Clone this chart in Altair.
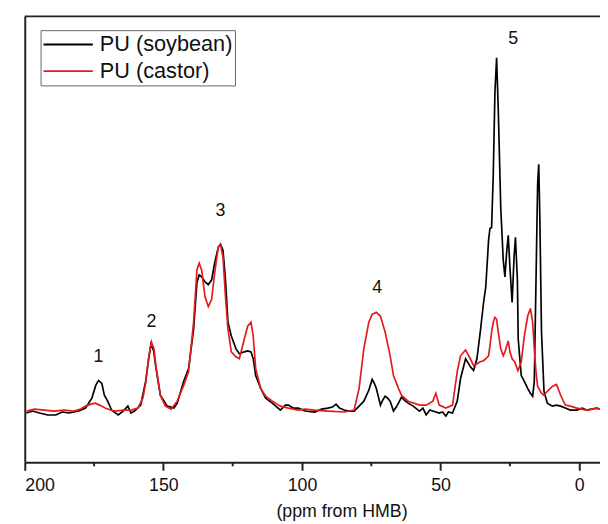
import altair as alt
import pandas as pd

# ---- data (ppm, intensity in arbitrary units) ----
soy_ppm = [199.4, 197.2, 194.7, 191.8, 188.8, 186.5, 184.0, 180.5, 178.1, 175.8,
           174.4, 173.4, 172.2, 171.3, 170.1, 168.7, 166.3, 164.5, 162.8, 161.7,
           160.4, 158.2, 156.4, 155.3, 154.5, 153.5, 152.8, 151.1, 148.6, 146.2,
           145.0, 142.7, 140.9, 139.1, 137.9, 137.1, 136.2, 135.0, 133.8, 132.6,
           131.5, 130.2, 129.4, 128.5, 127.6, 126.7, 125.5, 123.8, 122.6, 120.8,
           119.6, 118.4, 117.6, 116.7, 114.9, 113.1, 110.7, 107.8, 106.0, 104.9,
           103.2, 101.3, 98.9, 95.4, 92.9, 90.7, 89.0, 87.7, 86.5, 84.8,
           83.0, 81.2, 79.4, 77.7, 75.9, 74.7, 73.9, 73.2, 71.7, 70.9,
           70.0, 69.1, 68.2, 67.0, 66.0, 65.2, 64.1, 63.1, 61.7, 59.9,
           57.6, 56.4, 55.2, 53.9, 52.8, 50.5, 49.3, 48.1, 47.2, 45.7,
           44.0, 42.8, 41.0, 40.1, 39.3, 38.1, 36.9, 35.7, 34.5, 33.7,
           32.7, 32.2, 31.6, 31.0, 30.4, 29.8, 29.2, 28.3, 27.4, 26.8,
           26.2, 25.6, 25.0, 24.2, 23.5, 23.0, 22.3, 22.0, 20.9, 19.8,
           18.6, 17.6, 16.8, 16.2, 15.6, 15.0, 14.6, 14.2, 13.6, 12.7,
           11.5, 9.7, 8.2, 6.7, 5.0, 3.2, 0.8, -1.1, -2.7, -4.6, -6.3, -7.5]
soy_int = [50, 52, 50, 48, 48, 51, 50, 52, 55, 65,
           78, 83, 80, 68, 62, 53, 48, 52, 57, 50,
           52, 58, 82, 105, 120, 113, 98, 68, 57, 55,
           60, 82, 95, 135, 182, 190, 188, 183, 180, 185,
           202, 218, 221, 215, 185, 142, 128, 115, 110, 112,
           113, 112, 105, 88, 75, 65, 60, 53, 58, 58,
           55, 55, 52, 51, 54, 55, 56, 59, 55, 53,
           52, 52, 57, 62, 73, 84, 80, 75, 58, 63,
           67, 65, 62, 52, 56, 60, 66, 63, 60, 57,
           52, 55, 48, 53, 52, 50, 51, 47, 51, 50,
           62, 85, 105, 101, 97, 93, 105, 132, 162, 178,
           225, 237, 238, 292, 375, 410, 358, 258, 205, 188,
           212, 230, 198, 162, 208, 228, 185, 125, 88, 82,
           75, 70, 67, 82, 182, 282, 302, 248, 132, 72,
           60, 57, 58, 57, 55, 53, 53, 55, 53, 54, 55, 54]

cas_ppm = [199.4, 196.5, 192.9, 189.4, 185.8, 182.3, 179.8, 178.1, 176.2, 174.6,
           173.0, 171.0, 169.1, 167.5, 164.5, 161.7, 159.2, 157.4, 156.4, 155.3,
           154.3, 153.4, 152.7, 151.1, 149.3, 147.2, 145.0, 142.7, 140.9, 139.1,
           137.9, 137.1, 136.2, 135.0, 133.8, 132.6, 131.5, 130.2, 129.4, 128.5,
           127.6, 126.7, 125.5, 123.8, 122.6, 120.8, 119.6, 118.4, 117.6, 116.7,
           114.9, 113.1, 110.7, 107.8, 104.9, 101.3, 98.9, 95.4, 90.7, 84.8,
           81.2, 79.4, 77.7, 75.9, 74.7, 73.2, 71.7, 70.0, 68.2, 67.0,
           65.2, 64.1, 61.7, 57.6, 55.2, 52.8, 51.7, 50.5, 48.1, 45.7,
           44.0, 42.8, 41.0, 39.3, 38.1, 36.9, 35.7, 34.5, 33.7, 32.7,
           32.2, 31.6, 31.0, 30.4, 29.8, 29.2, 28.3, 27.4, 26.8, 25.6,
           25.0, 24.2, 23.3, 22.1, 20.9, 19.8, 18.6, 17.6, 16.8, 16.2,
           15.6, 15.0, 13.6, 12.7, 11.5, 9.7, 8.2, 6.7, 5.0, 3.2,
           0.8, -2.7, -6.3, -7.5]
cas_int = [52, 54, 53, 52, 53, 52, 54, 57, 59, 60,
           58, 55, 53, 52, 53, 53, 55, 65, 80, 107,
           122, 115, 98, 68, 57, 54, 62, 78, 92, 142,
           195, 202, 195, 168, 158, 165, 192, 218, 221, 208,
           168, 135, 112, 107, 105, 125, 138, 142, 128, 95,
           75, 67, 62, 57, 55, 53, 54, 53, 52, 51,
           53, 75, 115, 142, 150, 152, 148, 132, 108, 88,
           75, 68, 62, 58, 58, 62, 70, 58, 55, 58,
           92, 108, 114, 105, 98, 100, 102, 103, 105, 108,
           118, 132, 142, 147, 145, 132, 115, 108, 112, 123,
           112, 105, 102, 93, 102, 128, 148, 156, 142, 115,
           92, 77, 70, 68, 72, 77, 79, 68, 58, 57,
           55, 53, 55, 54]

series_names = ["PU (soybean)", "PU (castor)"]
series_colors = ["#000000", "#e31a1c"]

peak_labels = ["1", "2", "3", "4", "5"]
peak_ppm = [173.4, 154.3, 129.4, 72.9, 23.8]
peak_int = [107, 142, 255, 177, 429]

major_ticks = [200, 150, 100, 50, 0]
minor_ticks = [175, 125, 75, 25]

# ---- build tables ----
df = pd.concat([
    pd.DataFrame({"ppm": soy_ppm, "intensity": soy_int, "series": series_names[0], "o": range(len(soy_ppm))}),
    pd.DataFrame({"ppm": cas_ppm, "intensity": cas_int, "series": series_names[1], "o": range(len(cas_ppm))}),
])
labels_df = pd.DataFrame({"ppm": peak_ppm, "intensity": peak_int, "label": peak_labels})
minor_df = pd.DataFrame({"ppm": minor_ticks})

W, H = 583, 452
xscale = alt.Scale(domain=[-7.5, 200], reverse=True, nice=False, zero=False)
yscale = alt.Scale(domain=[0, 452], nice=False, zero=False)

lines = alt.Chart(df).mark_line(strokeWidth=1.7, clip=True).encode(
    x=alt.X("ppm:Q", scale=xscale,
            axis=alt.Axis(values=major_ticks, title="(ppm from HMB)", grid=False,
                          domainColor="#222", domainWidth=2, tickColor="#222",
                          tickWidth=2, tickSize=8, labelFontSize=18,
                          labelFont="Liberation Sans", labelColor="#111",
                          labelPadding=7, titleFont="Liberation Sans",
                          titleFontSize=18, titleFontWeight="normal",
                          titleColor="#111", titleX=321, titleY=50,
                          titleBaseline="middle", titleAlign="center")),
    y=alt.Y("intensity:Q", scale=yscale,
            axis=alt.Axis(labels=False, ticks=False, grid=False, title=None,
                          domainColor="#222", domainWidth=2)),
    color=alt.Color("series:N",
                    scale=alt.Scale(domain=series_names, range=series_colors),
                    legend=alt.Legend(title=None, orient="none", legendX=16, legendY=14,
                                      symbolType="stroke", symbolSize=2500,
                                      symbolStrokeWidth=2, labelFontSize=22,
                                      labelFont="Liberation Sans", labelColor="#111",
                                      labelOffset=6, rowPadding=2, padding=2,
                                      clipHeight=25,
                                      strokeColor="#666", cornerRadius=0)),
    order="o:Q",
)

texts = alt.Chart(labels_df).mark_text(fontSize=18, font="Liberation Sans",
                                       color="#111", baseline="middle", align="center").encode(
    x=alt.X("ppm:Q", scale=xscale),
    y=alt.Y("intensity:Q", scale=yscale),
    text="label:N",
)

minor = alt.Chart(minor_df).mark_rule(color="#222", strokeWidth=2).encode(
    x=alt.X("ppm:Q", scale=xscale),
    y=alt.value(H),
    y2=alt.value(H + 4),
)

top_border = alt.Chart(alt.Data(values=[{}])).mark_rule(color="#222", strokeWidth=2).encode(
    x=alt.value(0), x2=alt.value(W + 5), y=alt.value(0),
)

chart = alt.layer(lines, texts, minor, top_border).properties(
    width=W, height=H,
    autosize=alt.AutoSizeParams(type="none"),
    padding={"left": 17, "top": 5, "right": 0, "bottom": 59},
).configure_view(stroke=None)

chart.save("out.html", embed_options={"renderer": "svg", "actions": False})
